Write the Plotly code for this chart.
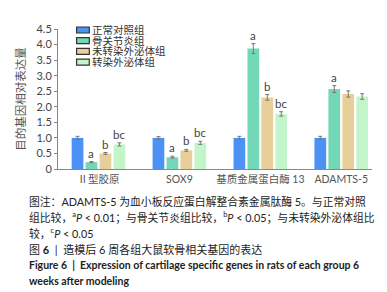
import plotly.graph_objects as go

categories = ["Ⅱ型胶原", "SOX9", "基质金属蛋白酶 13", "ADAMTS-5"]
group_names = ["正常对照组", "骨关节炎组", "未转染外泌体组", "转染外泌体组"]
normal = [1.0, 1.0, 1.0, 1.0]
oa = [0.22, 0.38, 3.87, 2.57]
untrans = [0.50, 0.60, 2.30, 2.41]
trans = [0.79, 0.84, 1.77, 2.33]
err_normal = [0.05, 0.04, 0.05, 0.05]
err_oa = [0.02, 0.03, 0.16, 0.11]
err_untrans = [0.03, 0.03, 0.09, 0.10]
err_trans = [0.05, 0.05, 0.07, 0.09]
sig_oa = ["a", "a", "a", "a"]
sig_untrans = ["b", "b", "b", ""]
sig_trans = ["bc", "bc", "bc", ""]
colors = ["#4b92f4", "#72d8b8", "#e8cf99", "#c2f6ca"]
y_ticks = [0, 0.5, 1.0, 1.5, 2.0, 2.5, 3.0, 3.5, 4.0, 4.5]
y_ticktext = ["0", "0.5", "1.0", "1.5", "2.0", "2.5", "3.0", "3.5", "4.0", "4.5"]

FONT = "Lato, Noto Sans CJK SC, sans-serif"
CJK = "Lato, Noto Sans CJK SC, sans-serif"

series = [normal, oa, untrans, trans]
errs = [err_normal, err_oa, err_untrans, err_trans]
sigs = [[""] * 4, sig_oa, sig_untrans, sig_trans]

# plot area in pixels (for converting layout positions to paper coords)
L, R, T, B = 43, 364, 21, 161
W, H = R - L, B - T
def px(x):
    return (x - L) / W
def py(y):
    return (B - y) / H

fig = go.Figure()
for name, vals, e, c in zip(group_names, series, errs, colors):
    fig.add_trace(go.Bar(
        x=categories, y=vals, name=name, marker=dict(color=c, line=dict(width=0)),
        error_y=dict(type="data", array=e, color="#777777", thickness=1, width=2),
        showlegend=False,
    ))

bargap = 0.31
n = len(series)
slot = (1 - bargap) / n
for i, (vals, e, s) in enumerate(zip(series, errs, sigs)):
    for j, (v, ev, lab) in enumerate(zip(vals, e, s)):
        if lab:
            fig.add_annotation(
                x=j + (i - (n - 1) / 2) * slot, y=v + ev, xref="x", yref="y",
                text=lab, showarrow=False, yanchor="bottom", yshift=0,
                font=dict(family=FONT, size=11.5, color="#444444"),
            )

# custom compact legend
for k, (name, c) in enumerate(zip(group_names, colors)):
    yc = 22 + k * 10.7
    fig.add_shape(
        type="rect", xref="paper", yref="paper",
        x0=px(62), x1=px(75), y0=py(yc + 3), y1=py(yc - 3),
        fillcolor=c, line=dict(color="#333333", width=1.2),
    )
    fig.add_annotation(
        x=px(77), y=py(yc), xref="paper", yref="paper", xanchor="left", yanchor="middle",
        text=name, showarrow=False, borderpad=0,
        font=dict(family=CJK, size=10.5, color="#333333"),
    )

captions = [
    (193, "图注：ADAMTS-5 为血小板反应蛋白解整合素金属肽酶 5。与正常对照", 10.8),
    (209, "组比较，<sup>a</sup><i>P</i> < 0.01；与骨关节炎组比较，<sup>b</sup><i>P</i> < 0.05；与未转染外泌体组比", 10.8),
    (225, "较，<sup>c</sup><i>P</i> < 0.05", 10.8),
    (241, "图 <b>6</b>  |  造模后 6 周各组大鼠软骨相关基因的表达", 11),
    (257, "<b>Figure 6  |  Expression of cartilage specific genes in rats of each group 6</b>", 10.5),
    (273, "<b>weeks after modeling</b>", 10.5),
]
for ypix, txt, size in captions:
    fig.add_annotation(
        x=px(11), y=py(ypix), xref="paper", yref="paper", xanchor="left", yanchor="middle",
        text=txt, showarrow=False,
        font=dict(family=CJK, size=size, color="#222222"),
    )

fig.update_layout(
    width=387, height=292,
    margin=dict(l=L, r=387 - R, t=T, b=292 - B),
    paper_bgcolor="white", plot_bgcolor="white",
    barmode="group", bargap=bargap, bargroupgap=0.16,
    font=dict(family=FONT, size=10, color="#444444"),
    showlegend=False,
    xaxis=dict(
        range=[-0.5, 3.38], showline=True, linecolor="#888888", linewidth=1,
        ticks="", tickfont=dict(family=FONT, size=10.5, color="#555555"),
        showgrid=False, zeroline=False,
    ),
    yaxis=dict(
        range=[0, 4.5], tickvals=y_ticks, ticktext=y_ticktext,
        showline=True, linecolor="#888888", linewidth=1,
        ticks="outside", ticklen=3, tickcolor="#888888",
        tickfont=dict(family=FONT, size=11, color="#444444"),
        showgrid=False, zeroline=False,
        title=dict(text="目的基因相对表达量", font=dict(family=CJK, size=11.5, color="#555555"), standoff=8),
    ),
)

fig.write_html("out.html")
